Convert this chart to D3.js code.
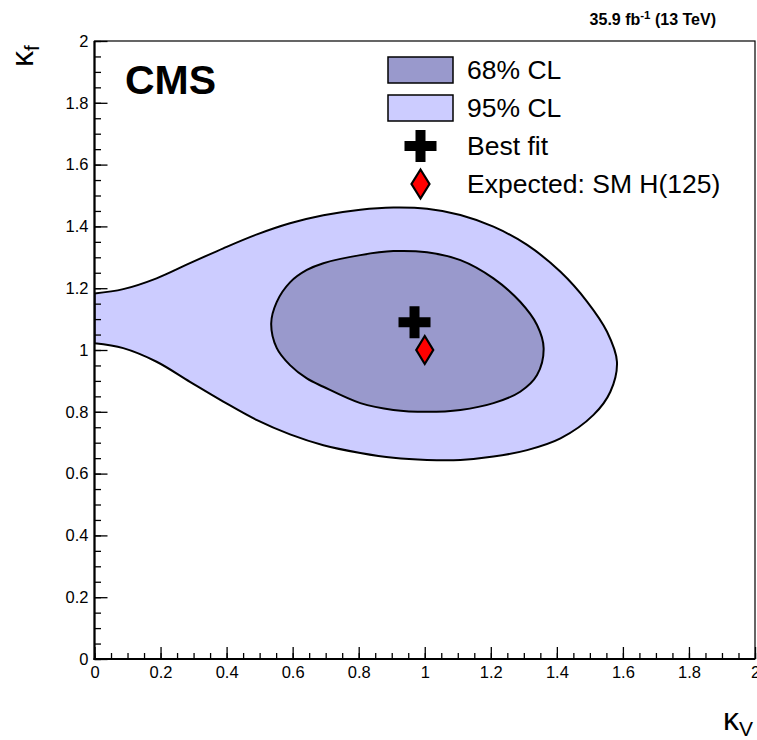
<!DOCTYPE html>
<html>
<head>
<meta charset="utf-8">
<script src="https://cdn.jsdelivr.net/npm/d3@7"></script>
<style>
  html, body { margin: 0; padding: 0; background: #fff; }
  svg { display: block; }
  text { font-family: "Liberation Sans", Arial, Helvetica, sans-serif; }
</style>
</head>
<body>
<svg id="chart" width="757" height="740"></svg>
<script>
// ---------------- DATA ----------------
const xMajorTicks = [0, 0.2, 0.4, 0.6, 0.8, 1, 1.2, 1.4, 1.6, 1.8, 2];
const yMajorTicks = [0, 0.2, 0.4, 0.6, 0.8, 1, 1.2, 1.4, 1.6, 1.8, 2];
const minorStep = 0.05;

// 95% CL contour: upper edge (left -> right) then lower edge (right -> left), [kappaV, kappaF]
const contour95 = [
  [0.000, 1.183], [0.087, 1.197], [0.188, 1.232], [0.289, 1.281], [0.390, 1.329],
  [0.492, 1.374], [0.592, 1.410], [0.693, 1.436], [0.805, 1.454], [0.905, 1.461],
  [1.007, 1.457], [1.108, 1.437], [1.208, 1.399], [1.310, 1.340], [1.411, 1.253],
  [1.492, 1.156], [1.552, 1.059], [1.582, 0.962],
  [1.562, 0.865], [1.511, 0.790], [1.411, 0.714], [1.310, 0.676], [1.208, 0.655],
  [1.108, 0.644], [1.007, 0.644], [0.905, 0.651], [0.805, 0.667], [0.693, 0.692],
  [0.592, 0.727], [0.492, 0.773], [0.390, 0.833], [0.289, 0.897], [0.188, 0.962],
  [0.087, 1.006], [0.000, 1.022]
];

// 68% CL contour (closed), [kappaV, kappaF]
const contour68 = [
  [0.535, 1.086], [0.552, 1.156], [0.592, 1.219], [0.643, 1.259], [0.693, 1.281],
  [0.805, 1.307], [0.905, 1.320], [1.007, 1.316], [1.108, 1.291], [1.208, 1.232],
  [1.289, 1.156], [1.340, 1.081], [1.360, 1.006], [1.340, 0.919], [1.289, 0.865],
  [1.208, 0.828], [1.108, 0.806], [1.007, 0.800], [0.905, 0.806], [0.805, 0.828],
  [0.693, 0.881], [0.643, 0.908], [0.592, 0.951], [0.552, 1.006]
];

const bestFit = [0.969, 1.09];
const smExpected = [1.0, 1.0];

const legendLabels = ["68% CL", "95% CL", "Best fit", "Expected: SM H(125)"];
const lumiText = "35.9 fb";
const lumiSup = "-1";
const lumiTail = " (13 TeV)";

// ---------------- LAYOUT ----------------
const svg = d3.select("#chart");
const X0 = 94.5, X1 = 755, Y0 = 659, Y1 = 41;
const x = d3.scaleLinear().domain([0, 2]).range([X0, X1]);
const y = d3.scaleLinear().domain([0, 2]).range([Y0, Y1]);

const col95 = "#ccccff", col68 = "#9999cc";

svg.append("defs").append("clipPath").attr("id", "plotclip")
  .append("rect").attr("x", X0).attr("y", Y1).attr("width", X1 - X0).attr("height", Y0 - Y1);

const plot = svg.append("g").attr("clip-path", "url(#plotclip)");

const line95 = d3.line().x(d => x(d[0])).y(d => y(d[1])).curve(d3.curveCatmullRom.alpha(0.5));
const line68 = d3.line().x(d => x(d[0])).y(d => y(d[1])).curve(d3.curveCatmullRomClosed.alpha(0.5));

plot.append("path").attr("d", line95(contour95) + "Z")
  .attr("fill", col95).attr("stroke", "#000").attr("stroke-width", 2);
plot.append("path").attr("d", line68(contour68))
  .attr("fill", col68).attr("stroke", "#000").attr("stroke-width", 2);

// markers
function crossPath(cx, cy, w, t) {
  const h = w / 2, a = t / 2;
  return `M${cx - a},${cy - h}H${cx + a}V${cy - a}H${cx + h}V${cy + a}H${cx + a}V${cy + h}H${cx - a}V${cy + a}H${cx - h}V${cy - a}H${cx - a}Z`;
}
function diamondPath(cx, cy, hw, hh) {
  return `M${cx},${cy - hh}L${cx + hw},${cy}L${cx},${cy + hh}L${cx - hw},${cy}Z`;
}
plot.append("path").attr("d", crossPath(x(bestFit[0]), y(bestFit[1]), 32, 10)).attr("fill", "#000");
plot.append("path").attr("d", diamondPath(x(smExpected[0]), y(smExpected[1]), 8.5, 14))
  .attr("fill", "#ff0000").attr("stroke", "#000").attr("stroke-width", 2.2);

// ---------------- AXES ----------------
const minorTicks = d3.range(0, 2 + 1e-9, minorStep).map(v => +v.toFixed(2));
const fmt = d3.format("~g");
const tickFont = 16.5;

const gx = svg.append("g").attr("transform", `translate(0,${Y0})`);
gx.call(d3.axisBottom(x).tickValues(minorTicks).tickSize(-6).tickFormat(""));
gx.call(g => g.select(".domain").remove());
const gx2 = svg.append("g").attr("transform", `translate(0,${Y0})`);
gx2.call(d3.axisBottom(x).tickValues(xMajorTicks).tickSize(-12).tickPadding(7).tickFormat(fmt));
gx2.select(".domain").remove();
[gx, gx2].forEach(g => g.selectAll("line").attr("stroke", "#000").attr("stroke-width", 1.3));
gx2.selectAll("text").attr("font-size", tickFont).attr("fill", "#000")
  .style("font-family", "'Liberation Sans', Arial, sans-serif");

const gy = svg.append("g").attr("transform", `translate(${X0},0)`);
gy.call(d3.axisLeft(y).tickValues(minorTicks).tickSize(-6.5).tickFormat(""));
gy.select(".domain").remove();
const gy2 = svg.append("g").attr("transform", `translate(${X0},0)`);
gy2.call(d3.axisLeft(y).tickValues(yMajorTicks).tickSize(-13).tickPadding(6).tickFormat(fmt));
gy2.select(".domain").remove();
[gy, gy2].forEach(g => g.selectAll("line").attr("stroke", "#000").attr("stroke-width", 1.3));
gy2.selectAll("text").attr("font-size", tickFont).attr("fill", "#000")
  .style("font-family", "'Liberation Sans', Arial, sans-serif");

// frame
svg.append("rect").attr("x", X0).attr("y", Y1).attr("width", X1 - X0).attr("height", Y0 - Y1)
  .attr("fill", "none").attr("stroke", "#000").attr("stroke-width", 1.2);
svg.append("line").attr("x1", X0).attr("x2", X0).attr("y1", Y1).attr("y2", Y0 + 1)
  .attr("stroke", "#000").attr("stroke-width", 2.2);
svg.append("line").attr("x1", X0 - 1).attr("x2", X1).attr("y1", Y0).attr("y2", Y0)
  .attr("stroke", "#000").attr("stroke-width", 2.2);

// axis titles
const serif = "'Liberation Serif', 'Times New Roman', serif";
const xt = svg.append("text").attr("x", 723).attr("y", 730).attr("font-family", serif).attr("fill", "#000");
xt.append("tspan").attr("font-size", 32).text("κ");
xt.append("tspan").attr("font-size", 21).attr("dy", 6).text("V");

const yt = svg.append("text").attr("transform", "translate(33,67) rotate(-90)")
  .attr("font-family", serif).attr("fill", "#000");
yt.append("tspan").attr("font-size", 32).text("κ");
yt.append("tspan").attr("font-size", 21).attr("dy", 6).text("f");

// CMS label
svg.append("text").attr("x", 125).attr("y", 94).attr("font-size", 41).attr("font-weight", "bold")
  .attr("fill", "#000").text("CMS");

// lumi label
const lt = svg.append("text").attr("x", 716).attr("y", 25).attr("text-anchor", "end")
  .attr("font-size", 16).attr("font-weight", "bold").attr("fill", "#000");
lt.append("tspan").text(lumiText);
lt.append("tspan").attr("font-size", 11.5).attr("dy", -6).text(lumiSup);
lt.append("tspan").attr("dy", 6).text(lumiTail);

// ---------------- LEGEND ----------------
const legX = 388, legTextX = 467, rowY = [70, 108, 146, 184];
svg.append("rect").attr("x", legX).attr("y", rowY[0] - 13).attr("width", 65).attr("height", 26)
  .attr("fill", col68).attr("stroke", "#000").attr("stroke-width", 1.5);
svg.append("rect").attr("x", legX).attr("y", rowY[1] - 13).attr("width", 65).attr("height", 26)
  .attr("fill", col95).attr("stroke", "#000").attr("stroke-width", 1.5);
svg.append("path").attr("d", crossPath(420.5, rowY[2], 32, 10)).attr("fill", "#000");
svg.append("path").attr("d", diamondPath(420.5, rowY[3], 9, 14.5))
  .attr("fill", "#ff0000").attr("stroke", "#000").attr("stroke-width", 2.2);
legendLabels.forEach((t, i) => {
  svg.append("text").attr("x", legTextX).attr("y", rowY[i] + 8.5).attr("font-size", 26.5)
    .attr("fill", "#000").text(t);
});
</script>
</body>
</html>
